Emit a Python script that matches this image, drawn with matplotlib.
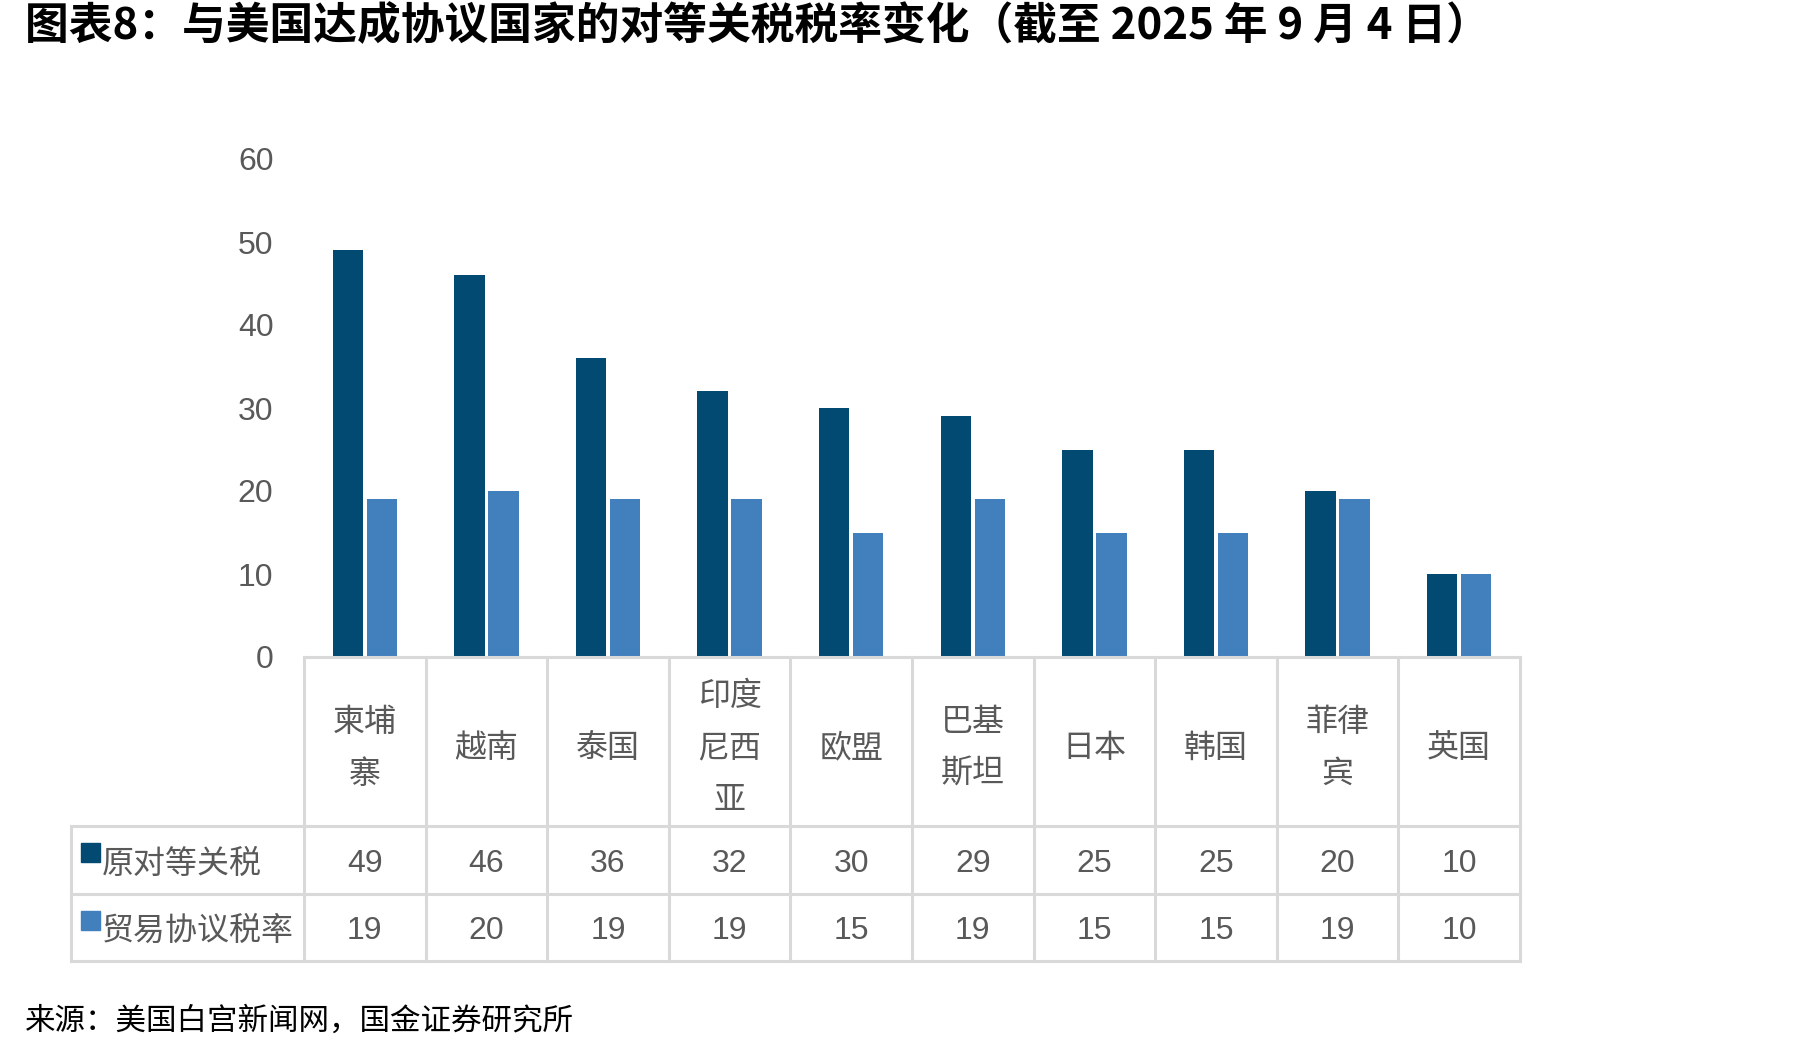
import matplotlib
matplotlib.use('Agg')
import matplotlib.pyplot as plt
import numpy as np

plt.rcParams['font.family'] = ['Liberation Sans', 'Noto Sans CJK SC', 'DejaVu Sans']

countries = ['柬埔\n寨', '越南', '泰国', '印度\n尼西\n亚', '欧盟', '巴基\n斯坦', '日本', '韩国', '菲律\n宾', '英国']
original_rate = [49, 46, 36, 32, 30, 29, 25, 25, 20, 10]
deal_rate = [19, 20, 19, 19, 15, 19, 15, 15, 19, 10]
series_names = ['原对等关税', '贸易协议税率']
yticks = [0, 10, 20, 30, 40, 50, 60]

dark = '#024A71'
light = '#427FBD'
grid_color = '#D9D9D9'
text_color = '#595959'

W, H = 1798, 1052
fig = plt.figure(figsize=(W / 100, H / 100), dpi=100)

# bar chart area
ax = fig.add_axes([304 / W, 1 - 657 / H, (1520 - 304) / W, (657 - 159) / H])
x = np.arange(len(countries)) + 0.5
ax.bar(x - 0.14, original_rate, width=0.25, color=dark, zorder=3)
ax.bar(x + 0.14, deal_rate, width=0.25, color=light, zorder=3)
ax.set_xlim(0, len(countries))
ax.set_ylim(0, 60)
ax.set_yticks(yticks)
ax.set_yticklabels([str(v) for v in yticks], fontsize=23, color=text_color)
ax.tick_params(axis='y', length=0, pad=22)
ax.set_xticks([])
for s in ['top', 'right', 'left', 'bottom']:
    ax.spines[s].set_visible(False)

# data table under the chart
lab_w = (304 - 71) / ((1520 - 304) / len(countries))
tab = fig.add_axes([71 / W, 1 - 961 / H, (1520 - 71) / W, (961 - 657) / H])
tab.set_xlim(-lab_w, len(countries))
tab.set_ylim(1, 0)
tab.axis('off')
r0, r1, r2, r3 = 0.0, 169 / 304, 237 / 304, 1.0
lw = 2.2
n = len(countries)
tab.plot([0, n], [r0, r0], color=grid_color, lw=lw, clip_on=False)
for yy in [r1, r2, r3]:
    tab.plot([-lab_w, n], [yy, yy], color=grid_color, lw=lw, clip_on=False)
for i in range(n + 1):
    tab.plot([i, i], [r0, r3], color=grid_color, lw=lw, clip_on=False)
tab.plot([-lab_w, -lab_w], [r1, r3], color=grid_color, lw=lw, clip_on=False)

for i, name in enumerate(countries):
    tab.text(i + 0.5, (r0 + r1) / 2 + 0.025, name, ha='center', va='center',
             fontsize=23, color=text_color, linespacing=1.95)
    tab.text(i + 0.5, (r1 + r2) / 2 + 0.012, str(original_rate[i]), ha='center', va='center',
             fontsize=23, color=text_color)
    tab.text(i + 0.5, (r2 + r3) / 2 + 0.012, str(deal_rate[i]), ha='center', va='center',
             fontsize=23, color=text_color)

for (top, bot), name, col in zip([(r1, r2), (r2, r3)], series_names, [dark, light]):
    sq = plt.Rectangle((-lab_w + 0.08, top + 0.057), 0.155, 0.06, color=col, clip_on=False)
    tab.add_patch(sq)
    tab.text(-lab_w + 0.25, (top + bot) / 2 + 0.015, name, ha='left', va='center',
             fontsize=23, color=text_color)

fig.text(25 / W, 1 - 26 / H, '图表8：与美国达成协议国家的对等关税税率变化（截至 2025 年 9 月 4 日）',
         fontsize=31.5, fontweight='bold', style='italic', va='center', ha='left',
         family=['Noto Sans CJK SC', 'DejaVu Sans'], color='black')
fig.text(25 / W, 1 - 1021 / H, '来源：美国白宫新闻网，国金证券研究所',
         fontsize=22, va='center', ha='left', family=['Noto Sans CJK SC', 'DejaVu Sans'],
         color='black')

fig.savefig('out.png', dpi=100)
